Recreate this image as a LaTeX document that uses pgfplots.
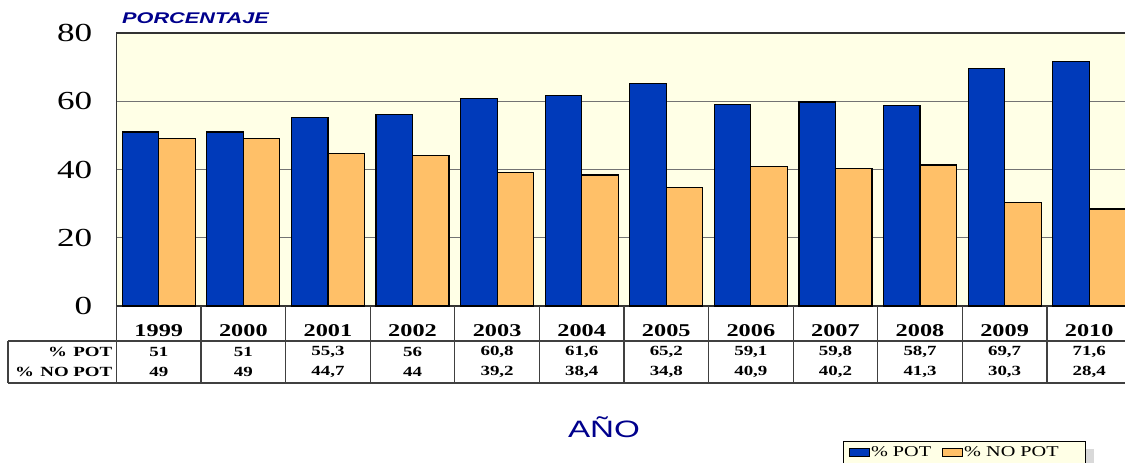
\documentclass[border=0pt]{standalone}
\usepackage{fontspec}
\setmainfont[FakeStretch=1.35]{Liberation Serif}
\newfontfamily\widesans[FakeStretch=1.4]{Liberation Sans}
\usepackage{pgfplots}
\pgfplotsset{compat=1.18}
\usepackage{pgfplotstable}

\definecolor{potblue}{RGB}{0,58,186}
\definecolor{nopotorange}{RGB}{255,192,104}
\definecolor{plotbg}{RGB}{255,255,230}
\definecolor{navy}{RGB}{0,0,140}

% porcentaje por año
\pgfplotstableread{
x year pot nopot
0  1999 51   49
1  2000 51   49
2  2001 55.3 44.7
3  2002 56   44
4  2003 60.8 39.2
5  2004 61.6 38.4
6  2005 65.2 34.8
7  2006 59.1 40.9
8  2007 59.8 40.2
9  2008 58.7 41.3
10 2009 69.7 30.3
11 2010 71.6 28.4
}\datatable

\pgfplotsset{
  boxlegend/.style={legend image code/.code={\draw[##1, line width=1pt] (0pt,-4pt) rectangle (20pt,4pt);}},
}

\begin{document}
\begin{tikzpicture}
\useasboundingbox (0,0) rectangle (1125pt,463pt);
\begin{axis}[
    at={(116.5pt,157pt)}, anchor=south west,
    scale only axis, width=1015pt, height=273pt,
    xmin=-0.5, xmax=11.5, ymin=0, ymax=80,
    ybar=0pt, bar width=36.5pt,
    xtick=data,
    xticklabels from table={\datatable}{year},
    xticklabel style={anchor=center, inner sep=0pt, yshift=-25pt,
      font=\fontsize{18}{20}\selectfont\bfseries},
    ytick={0,20,40,60,80},
    yticklabel style={anchor=east, inner sep=0pt, xshift=-24pt,
      font=\fontsize{26}{28}\selectfont},
    /pgf/number format/assume math mode=true,
    /pgf/number format/use comma,
    major tick length=0pt,
    ymajorgrids,
    grid style={black!55, line width=1pt},
    axis background/.style={fill=plotbg},
    axis line style={black!80, line width=1.5pt},
    clip=false,
    xlabel={AÑO},
    xlabel style={at={(axis description cs:0.4803,-0.4835)}, anchor=base,
      font=\widesans\fontsize{23.7}{26}\selectfont, text=navy},
    legend columns=2,
    legend style={name=leg, at={(axis description cs:0.7158,-0.4945)}, anchor=north west,
      fill=plotbg, draw=black, line width=1pt,
      font=\fontsize{15}{17}\selectfont,
      inner xsep=5pt, inner ysep=4pt,
      nodes={inner sep=1.5pt},
      /tikz/every even column/.append style={column sep=9pt}},
  ]
  \addplot[fill=potblue, draw=black, line width=1.2pt, boxlegend] table[x=x, y=pot]{\datatable};
  \addlegendentry{\% POT}
  \addplot[fill=nopotorange, draw=black, line width=1.2pt, boxlegend] table[x=x, y=nopot]{\datatable};
  \addlegendentry{\% NO POT\kern20pt}

  % tabla de datos bajo el eje
  \tikzset{tline/.style={black!75, line width=1.2pt},
           valstyle/.style={font=\fontsize{14}{16}\selectfont\bfseries, inner sep=0pt}}
  \pgfplotsinvokeforeach{-0.5,0.5,...,10.5}{
    \draw[tline] (axis cs:#1,0) -- ([yshift=-77pt]axis cs:#1,0);
  }
  \draw[tline] ([xshift=-108.5pt,yshift=-35pt]axis cs:-0.5,0) -- ([yshift=-35pt]axis cs:11.5,0);
  \draw[tline] ([xshift=-108.5pt,yshift=-77pt]axis cs:-0.5,0) -- ([yshift=-77pt]axis cs:11.5,0);
  \draw[tline] ([xshift=-108.5pt,yshift=-35pt]axis cs:-0.5,0) -- ([xshift=-108.5pt,yshift=-77pt]axis cs:-0.5,0);
  \node[valstyle, anchor=east] at ([xshift=-4pt,yshift=-45.5pt]axis cs:-0.5,0) {\%\hspace{0.45em}POT};
  \node[valstyle, anchor=east] at ([xshift=-4pt,yshift=-66pt]axis cs:-0.5,0) {\%\hspace{0.45em}NO POT};
  \pgfplotsforeachungrouped \i in {0,...,11}{%
    \pgfplotstablegetelem{\i}{pot}\of\datatable \let\va\pgfplotsretval
    \pgfplotstablegetelem{\i}{nopot}\of\datatable \let\vb\pgfplotsretval
    \edef\temp{%
      \noexpand\node[valstyle] at ([yshift=-45.5pt]axis cs:\i,0) {\noexpand\pgfmathprintnumber{\va}};
      \noexpand\node[valstyle] at ([yshift=-66pt]axis cs:\i,0) {\noexpand\pgfmathprintnumber{\vb}};}%
    \temp
  }

  \node[anchor=base west, inner sep=0pt, text=navy,
    font=\widesans\bfseries\itshape\fontsize{15.5}{17}\selectfont]
    at ([xshift=5.5pt,yshift=9pt]rel axis cs:0,1) {PORCENTAJE};
\end{axis}
% sombra de la leyenda
\fill[black!15] ([xshift=0.5pt,yshift=-8pt]leg.north east) rectangle ([xshift=8.5pt,yshift=-8pt]leg.south east);
\end{tikzpicture}
\end{document}
